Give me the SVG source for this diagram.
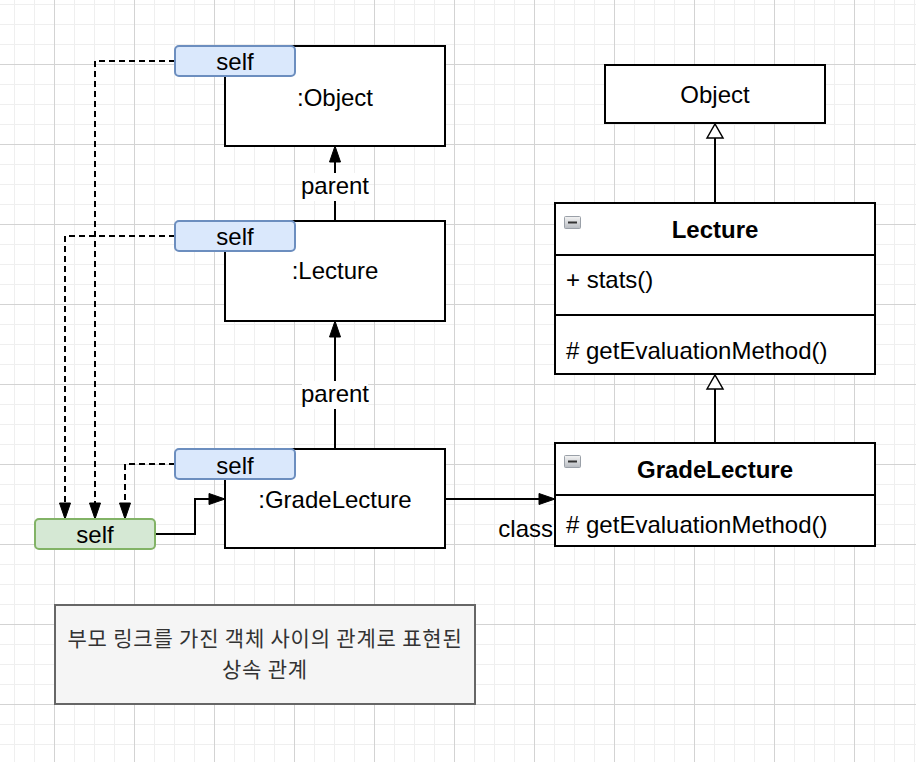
<svg xmlns="http://www.w3.org/2000/svg" width="916" height="762" viewBox="0 0 916 762">
<style>
text{font-family:"Liberation Sans",Arial,sans-serif;font-size:24px;fill:#000}
.c{text-anchor:middle}
.b{font-weight:bold}
.box{fill:#fff;stroke:#000;stroke-width:2}
.selfb{fill:#dae8fc;stroke:#6c8ebf;stroke-width:2}
.selfg{fill:#d5e8d4;stroke:#82b366;stroke-width:2}
.ln{fill:none;stroke:#000;stroke-width:2}
.dl{fill:none;stroke:#000;stroke-width:2;stroke-dasharray:6 4}
.kr{font-family:"Noto Sans CJK KR",sans-serif;font-size:21px;letter-spacing:0.8px;fill:#333}
</style>
<defs>
<pattern id="grid" x="54" y="64" width="80" height="80" patternUnits="userSpaceOnUse">
<path d="M20.5,0V80M40.5,0V80M60.5,0V80M0,20.5H80M0,40.5H80M0,60.5H80" stroke="#efefef" stroke-width="1" fill="none"/>
<path d="M0.5,0V80M0,0.5H80" stroke="#d3d3d3" stroke-width="1" fill="none"/>
</pattern>
<marker id="arr" markerUnits="userSpaceOnUse" markerWidth="18" markerHeight="13" refX="0" refY="6" orient="auto" overflow="visible">
<path d="M0,0.5 L16,6 L0,11.5 z" fill="#000" stroke="#000" stroke-width="1"/>
</marker>
<marker id="inh" markerUnits="userSpaceOnUse" markerWidth="16" markerHeight="18" refX="0" refY="8" orient="auto" overflow="visible">
<path d="M0,0 L14,8 L0,16 z" fill="#fff" stroke="#000" stroke-width="1.5"/>
</marker>
<linearGradient id="icg" x1="0" y1="0" x2="0" y2="1">
<stop offset="0" stop-color="#f4f4f4"/>
<stop offset="1" stop-color="#b8bcc2"/>
</linearGradient>
</defs>
<rect width="916" height="762" fill="#fff"/>
<rect width="916" height="762" fill="url(#grid)"/>

<g id="connectors">
<path class="ln" d="M335,221 V162" marker-end="url(#arr)"/>
<path class="ln" d="M335,449 V337" marker-end="url(#arr)"/>
<path class="ln" d="M445,499 H539" marker-end="url(#arr)"/>
<path class="ln" d="M155,534 H195 V499 H209" marker-end="url(#arr)"/>
<path class="dl" d="M175,61 H95 V503" marker-end="url(#arr)"/>
<path class="dl" d="M175,236 H65 V503" marker-end="url(#arr)"/>
<path class="dl" d="M175,464 H125 V503" marker-end="url(#arr)"/>
<path class="ln" d="M715,203 V138" marker-end="url(#inh)"/>
<path class="ln" d="M715,443 V389" marker-end="url(#inh)"/>
<rect x="302" y="173" width="66" height="28" fill="#fff"/>
<text class="c" x="335" y="194">parent</text>
<rect x="302" y="381" width="66" height="28" fill="#fff"/>
<text class="c" x="335" y="402">parent</text>
<text x="553" y="537" text-anchor="end">class</text>
</g>

<g id="obj-object">
<rect class="box" x="225" y="46" width="220" height="100"/>
<text class="c" x="335" y="106">:Object</text>
</g>
<g id="obj-lecture">
<rect class="box" x="225" y="221" width="220" height="100"/>
<text class="c" x="335" y="279">:Lecture</text>
</g>
<g id="obj-gradelecture">
<rect class="box" x="225" y="449" width="220" height="99"/>
<text class="c" x="335" y="508">:GradeLecture</text>
</g>
<g id="self-object">
<rect class="selfb" x="175" y="46" width="120" height="30" rx="4"/>
<text class="c" x="235" y="70">self</text>
</g>
<g id="self-lecture">
<rect class="selfb" x="175" y="221" width="120" height="30" rx="4"/>
<text class="c" x="235" y="245">self</text>
</g>
<g id="self-gradelecture">
<rect class="selfb" x="175" y="449" width="120" height="30" rx="4"/>
<text class="c" x="235" y="474">self</text>
</g>
<g id="self-main">
<rect class="selfg" x="35" y="519" width="120" height="30" rx="4"/>
<text class="c" x="95" y="543">self</text>
</g>

<g id="class-object">
<rect class="box" x="605" y="65" width="220" height="58"/>
<text class="c" x="715" y="103">Object</text>
</g>
<g id="class-lecture">
<rect class="box" x="555" y="203" width="320" height="171"/>
<path class="ln" d="M555,255 H875 M555,315 H875"/>
<rect x="564.5" y="216.5" width="16" height="12" fill="url(#icg)" stroke="#9aa0a8" stroke-width="1" rx="1"/>
<path d="M568,222.5 H577" stroke="#333" stroke-width="2"/>
<text class="c b" x="715" y="238">Lecture</text>
<text x="566" y="288">+ stats()</text>
<text x="566" y="359"># getEvaluationMethod()</text>
</g>
<g id="class-gradelecture">
<rect class="box" x="555" y="443" width="320" height="103"/>
<path class="ln" d="M555,495 H875"/>
<rect x="564.5" y="455.5" width="16" height="12" fill="url(#icg)" stroke="#9aa0a8" stroke-width="1" rx="1"/>
<path d="M568,461.5 H577" stroke="#333" stroke-width="2"/>
<text class="c b" x="715" y="478">GradeLecture</text>
<text x="566" y="533"># getEvaluationMethod()</text>
</g>

<g id="note">
<rect x="55" y="605" width="420" height="99" fill="#f5f5f5" stroke="#666" stroke-width="2"/>
<text class="kr c" x="265" y="646">부모 링크를 가진 객체 사이의 관계로 표현된</text>
<text class="kr c" x="265" y="677">상속 관계</text>
</g>
</svg>
